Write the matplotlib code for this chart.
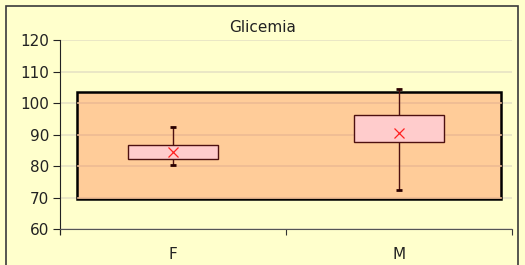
import matplotlib
matplotlib.use('Agg')
import matplotlib.pyplot as plt
from matplotlib.patches import Rectangle

# data
categories = ['F', 'M']
whisker_low = [80.4, 72.3]
box_low = [82.2, 87.5]
box_high = [86.7, 96.3]
whisker_high = [92.3, 104.3]
means = [84.4, 90.6]
range_low, range_high = 69.6, 103.4
y_ticks = [60, 70, 80, 90, 100, 110, 120]

BG = '#FFFFCC'
plt.rcParams['font.family'] = ['DejaVu Sans']

fig = plt.figure(figsize=(5.25, 2.65), dpi=100, facecolor=BG)
ax = fig.add_axes([60 / 525, 1 - 229 / 265, 452 / 525, 189 / 265])
ax.set_facecolor(BG)

# outer chart border
fig.patches.append(Rectangle((6 / 525, -0.05), 512 / 525, 1.05 - 6 / 265,
                             transform=fig.transFigure, fill=False,
                             edgecolor='#3a3a3a', linewidth=1.2))

ax.set_xlim(-0.5, 1.5)
ax.set_ylim(60, 120)
ax.set_yticks(y_ticks)
ax.grid(axis='y', color='#E6E3C4', linewidth=1.2, zorder=0)
ax.set_axisbelow(True)

# shaded reference range
ax.add_patch(Rectangle((-0.425, range_low), 1.876, range_high - range_low,
                       facecolor='#FFCC99', edgecolor='black', linewidth=1.8,
                       zorder=1))
for y in y_ticks:
    if range_low < y < range_high:
        ax.axhline(y, xmin=0.04, xmax=0.975, color='#EDBB94', linewidth=1.2,
                   zorder=1.5)

width = 0.394
for i, cat in enumerate(categories):
    ax.plot([i, i], [whisker_low[i], whisker_high[i]], color='#4d1010',
            linewidth=1.0, zorder=2)
    for yv in (whisker_low[i], whisker_high[i]):
        ax.plot([i - 0.014, i + 0.014], [yv, yv], color='#2a0000',
                linewidth=2, solid_capstyle='butt', zorder=2)
    ax.add_patch(Rectangle((i - width / 2, box_low[i]), width,
                           box_high[i] - box_low[i], facecolor='#FFCCCC',
                           edgecolor='#4d1010', linewidth=1.0, zorder=3))
    ax.plot(i, means[i], marker='x', color='#FF2020', markersize=7,
            markeredgewidth=0.9, zorder=4)

ax.set_xticks([-0.5, 0.5, 1.5], minor=False)
ax.set_xticklabels(['', '', ''])
ax.set_xticks([0, 1], minor=True)
ax.set_xticklabels(categories, minor=True)
ax.tick_params(axis='x', which='major', length=4, direction='out',
               color='#333333')
ax.tick_params(axis='x', which='minor', length=0, pad=13, labelsize=11,
               labelcolor='#222222')
ax.tick_params(axis='y', length=5, color='#222222', labelsize=11,
               labelcolor='#222222', pad=3)

for side in ('top', 'right'):
    ax.spines[side].set_visible(False)
ax.spines['left'].set_color('#222222')
ax.spines['bottom'].set_color('#555555')
ax.spines['left'].set_bounds(58.5, 120)

fig.text(263 / 525, 1 - 27 / 265, 'Glicemia', ha='center', va='center',
         fontsize=11, color='#222222')

fig.savefig('out.png', dpi=100, facecolor=BG)
